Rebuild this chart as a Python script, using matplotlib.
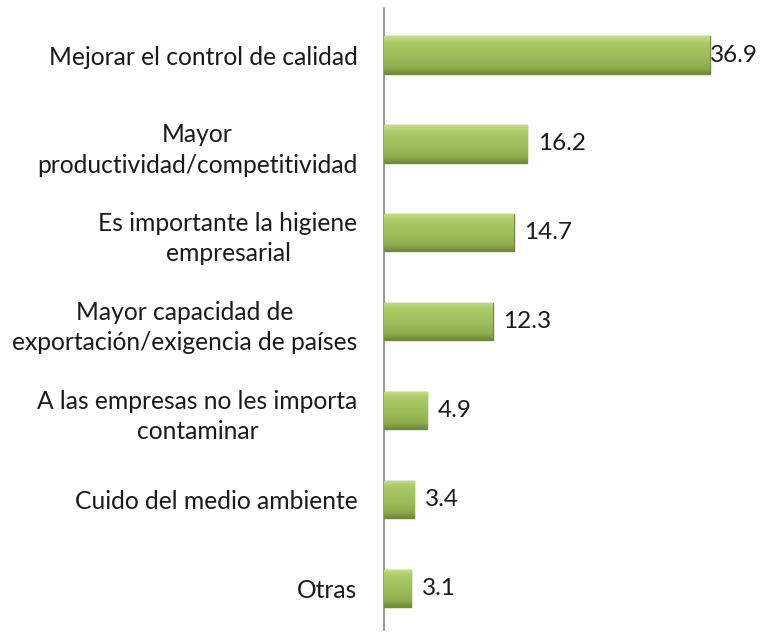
import matplotlib
matplotlib.use("Agg")
import matplotlib.pyplot as plt
import numpy as np
from matplotlib.colors import LinearSegmentedColormap

categories = [
    "Mejorar el control de calidad",
    "Mayor\nproductividad/competitividad",
    "Es importante la higiene\nempresarial",
    "Mayor capacidad de\nexportación/exigencia de países",
    "A las empresas no les importa\ncontaminar",
    "Cuido del medio ambiente",
    "Otras",
]
values = [36.9, 16.2, 14.7, 12.3, 4.9, 3.4, 3.1]
value_labels = ["36.9", "16.2", "14.7", "12.3", "4.9", "3.4", "3.1"]

plt.rcParams['font.family'] = ['Lato', 'DejaVu Sans']

fig = plt.figure(figsize=(7.76, 6.35), dpi=100)
ax = fig.add_axes([384/776, 5/635, (770-384)/776, 622/635])

n = len(categories)
y = np.arange(n)
bar_h = 0.42
cmap = LinearSegmentedColormap.from_list(
    "g", [(0, "#c4dd86"), (0.2, "#a8c963"), (0.6, "#9bbb59"), (0.85, "#8cab4b"), (1, "#6f8a35")])
bars = ax.barh(y, values, height=bar_h, color="#9bbb59", edgecolor="#71893a", linewidth=1.0, zorder=3)
grad = np.linspace(0, 1, 100).reshape(-1, 1)
for b in bars:
    x0, y0 = b.get_x(), b.get_y()
    w, h = b.get_width(), b.get_height()
    im = ax.imshow(grad, cmap=cmap, aspect='auto', extent=[x0, x0 + w, y0 + h, y0],
                   origin='upper', zorder=3)
    im.set_clip_path(b)

for yi, v, lab in zip(y, values, value_labels):
    ax.text(v + (0.05 if v > 30 else 1.2), yi, lab, va='center', ha='left', fontsize=17.5, color='#1a1a1a')

off = -0.03
ax.set_ylim(n - 0.5 + off, -0.5 + off)
ax.set_xlim(0, (770 - 384) / 8.83)
ax.set_yticks(y)
ax.set_yticklabels(categories, fontsize=17.7, multialignment='center', color='#1a1a1a', linespacing=1.4)
ax.tick_params(axis='y', length=0, pad=19)
ax.set_xticks([])
for s in ['top', 'right', 'bottom']:
    ax.spines[s].set_visible(False)
ax.spines['left'].set_color('#868686')
ax.spines['left'].set_linewidth(1.2)
fig.savefig("out.png", dpi=100)
